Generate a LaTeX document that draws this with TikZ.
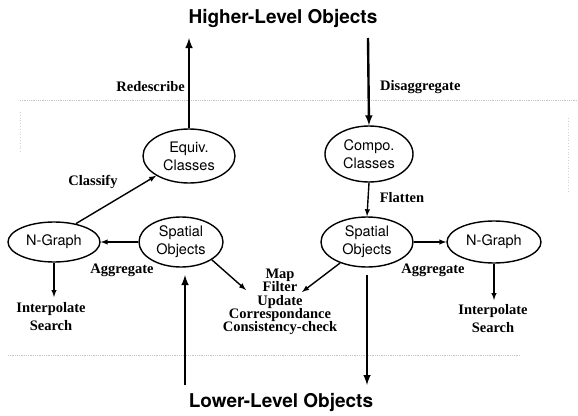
\documentclass[tikz,border=0pt]{standalone}
\usepackage{fontspec}
\setmainfont{Liberation Serif}
\setsansfont{TeX Gyre Heros}
\usepackage{tikz}
\usetikzlibrary{shapes,arrows,positioning}
\tikzstyle{obj} = [ellipse, draw, line width=1.4pt, inner sep=0pt, text centered, align=center, font=\sffamily\fontsize{14.5}{18}\selectfont]
\tikzstyle{level} = [draw=none, fill=none, font=\sffamily\bfseries\fontsize{19}{21}\selectfont]
\tikzstyle{textonly} = [draw=none, fill=none, inner sep=1pt, align=center, font=\bfseries\fontsize{14.5}{18}\selectfont]
\tikzstyle{tedge}  = [draw, line width=1.4pt, >=latex, ->]
\tikzstyle{ledge}  = [draw, line width=2.4pt, >=latex, ->]

\begin{document}
\begin{tikzpicture}[x=1pt, y=-1pt, auto]
\useasboundingbox (0,0) rectangle (578,415);

% faint frame of the scan
\draw[gray!45, densely dotted, line width=0.8pt] (20,100) -- (578,100);
\draw[gray!45, densely dotted, line width=0.8pt] (8,355) -- (520,355);
\draw[gray!35, dotted, line width=0.8pt] (20,112) -- (20,152);
\draw[gray!35, dotted, line width=0.8pt] (568,118) -- (568,192);

% levels =================================
\node[level] (high) at (283,18) {Higher-Level Objects};
\node[level] (low) at (281,402) {Lower-Level Objects};
\coordinate (hl) at (189,38);
\coordinate (hr) at (368,38);
\coordinate (ll) at (185,385);
\coordinate (lla) at (185,275);
\coordinate (lr) at (367,385);
\coordinate (lra) at (367,275);

% objects ================================
\node[obj, minimum width=92pt, minimum height=54pt] (equiv) at (189,156) {Equiv.\\Classes};
\node[obj, minimum width=88pt, minimum height=56pt] (compo) at (369,154) {Compo.\\Classes};
\node[obj, minimum width=84pt, minimum height=50pt] (spl) at (181,242) {Spatial\\Objects};
\node[obj, minimum width=92pt, minimum height=50pt] (spr) at (367,242) {Spatial\\Objects};
\node[obj, minimum width=92pt, minimum height=40pt] (ngl) at (54,242) {N-Graph};
\node[obj, minimum width=94pt, minimum height=42pt] (ngr) at (494,242) {N-Graph};

% operations =============================
\node[textonly, font=\bfseries\fontsize{14.5}{13.4}\selectfont] (ops) at (280,302) {Map\\Filter\\Update\\Correspondance\\Consistency-check};
\coordinate (opl) at (246,290);
\coordinate (opr) at (302,292);
\coordinate (sel) at (54,297);
\coordinate (ser) at (494,300);
\node[textonly] (isl) at (51,317) {Interpolate\\Search};
\node[textonly] (isr) at (493,319) {Interpolate\\Search};

% labels
\node[textonly, anchor=east] at (186,87) {Redescribe};
\node[textonly, anchor=west] at (379,87) {Disaggregate};
\node[textonly] at (93,182) {Classify};
\node[textonly] at (402,198) {Flatten};
\node[textonly] at (122,270) {Aggregate};
\node[textonly] at (433,270) {Aggregate};

% edges
\path[ledge] (equiv.north) -- (hl);
\path[ledge] (hr) -- (compo.north);
\path[ledge] (ll) -- (lla);
\path[ledge] (lra) -- (lr);
\path[tedge] (ngl.40) -- (equiv.211);
\path[tedge] (compo.south) -- (spr.north);
\path[tedge] (spl.west) -- (ngl.east);
\path[tedge] (spr.east) -- (ngr.west);
\path[tedge] (ngl.south) -- (sel);
\path[tedge] (ngr.south) -- (ser);
\path[tedge] (spl.330) -- (opl);
\path[tedge] (spr.218) -- (opr);

\end{tikzpicture}
\end{document}
